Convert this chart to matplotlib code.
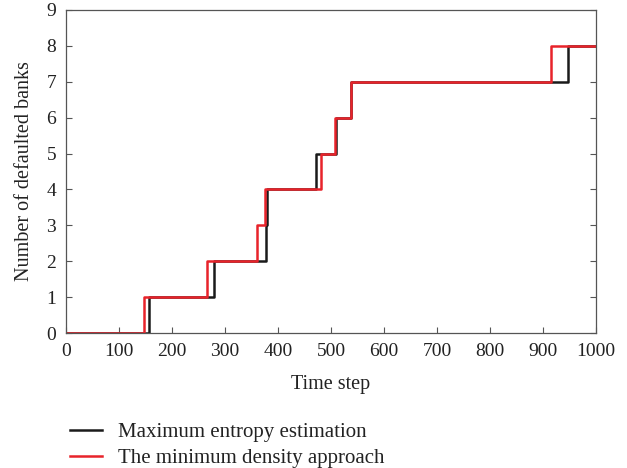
import matplotlib
matplotlib.use("Agg")
import matplotlib.pyplot as plt

# Data: jump times (time step at which number of defaulted banks increases)
levels = [0, 1, 2, 3, 4, 5, 6, 7, 8, 8]
max_entropy_t = [0, 157, 279, 378, 380, 472, 509, 538, 947, 1000]
min_density_t = [0, 147, 266, 360, 375, 481, 507, 538, 916, 1000]

xticks = list(range(0, 1001, 100))
yticks = list(range(0, 10))

plt.rcParams['font.family'] = ['Liberation Serif', 'DejaVu Serif']

fig = plt.figure(figsize=(6.27, 4.68), dpi=100)
ax = fig.add_axes([66/627, 1 - 333/468, (596-66)/627, (333-10)/468])

ax.plot(max_entropy_t, levels, drawstyle='steps-post', color='#1a1a1a', lw=1.8,
        label='Maximum entropy estimation')
ax.plot(min_density_t, levels, drawstyle='steps-post', color='#e8232a', lw=1.8,
        label='The minimum density approach')

ax.set_xlim(0, 1000)
ax.set_ylim(0, 9)
ax.set_xticks(xticks)
ax.set_yticks(yticks)
ax.tick_params(direction='in', length=4, width=0.8, colors='#555555',
               labelcolor='#222222', labelsize=14, top=False, right=True, pad=7)
for s in ax.spines.values():
    s.set_color('#555555')
    s.set_linewidth(0.9)

ax.set_xlabel('Time step', fontsize=14.5, color='#222222', labelpad=11)
ax.set_ylabel('Number of defaulted banks', fontsize=14.5, color='#222222', labelpad=9)

handles, labels = ax.get_legend_handles_labels()
fig.legend(handles, labels, loc='upper left', bbox_to_anchor=(51/627, 1 - 404/468),
           frameon=False, fontsize=15, handlelength=1.55, handletextpad=0.75,
           labelspacing=0.3, labelcolor='#222222')

fig.savefig('out.png', dpi=100)
